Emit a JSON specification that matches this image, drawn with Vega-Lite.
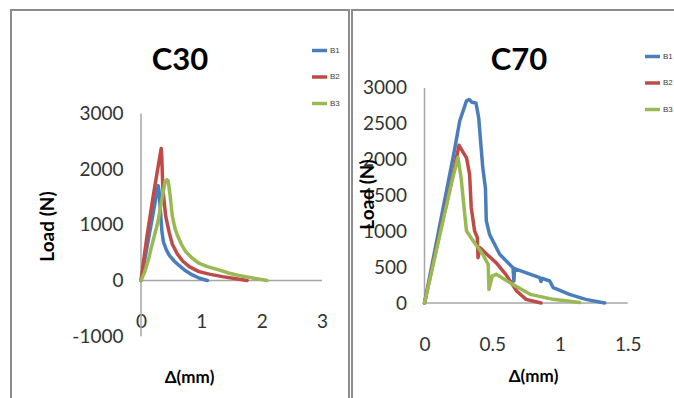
{
  "$schema": "https://vega.github.io/schema/vega-lite/v6.json",
  "padding": {"left": 10, "top": 9, "right": 0, "bottom": 0},
  "spacing": 1,
  "config": {
    "view": {"stroke": "#8c8c8c", "strokeWidth": 2},
    "font": "Lato",
    "axis": {"grid": false, "ticks": false, "domain": false, "labelFont": "Lato", "labelFontSize": 19, "labelColor": "#333333", "titleFont": "Lato", "titleFontWeight": "bold", "titleColor": "#000000"},
    "legend": {"labelFont": "Liberation Sans", "labelFontSize": 8, "labelColor": "#404040"}
  },
  "datasets": {
    "c30": [
      {"s": "B1", "i": 0, "x": 0, "y": 0}, {"s": "B1", "i": 1, "x": 0.05, "y": 300}, {"s": "B1", "i": 2, "x": 0.15, "y": 900}, {"s": "B1", "i": 3, "x": 0.25, "y": 1500}, {"s": "B1", "i": 4, "x": 0.285, "y": 1700}, {"s": "B1", "i": 5, "x": 0.30, "y": 1600}, {"s": "B1", "i": 6, "x": 0.325, "y": 1200}, {"s": "B1", "i": 7, "x": 0.345, "y": 900}, {"s": "B1", "i": 8, "x": 0.37, "y": 700}, {"s": "B1", "i": 9, "x": 0.42, "y": 550}, {"s": "B1", "i": 10, "x": 0.47, "y": 450}, {"s": "B1", "i": 11, "x": 0.55, "y": 350}, {"s": "B1", "i": 12, "x": 0.63, "y": 270}, {"s": "B1", "i": 13, "x": 0.72, "y": 190}, {"s": "B1", "i": 14, "x": 0.85, "y": 100}, {"s": "B1", "i": 15, "x": 0.97, "y": 40}, {"s": "B1", "i": 16, "x": 1.1, "y": 0},
      {"s": "B2", "i": 0, "x": 0, "y": 0}, {"s": "B2", "i": 1, "x": 0.04, "y": 330}, {"s": "B2", "i": 2, "x": 0.1, "y": 800}, {"s": "B2", "i": 3, "x": 0.2, "y": 1500}, {"s": "B2", "i": 4, "x": 0.3, "y": 2150}, {"s": "B2", "i": 5, "x": 0.335, "y": 2370}, {"s": "B2", "i": 6, "x": 0.345, "y": 2200}, {"s": "B2", "i": 7, "x": 0.36, "y": 1700}, {"s": "B2", "i": 8, "x": 0.38, "y": 1450}, {"s": "B2", "i": 9, "x": 0.41, "y": 1150}, {"s": "B2", "i": 10, "x": 0.44, "y": 1000}, {"s": "B2", "i": 11, "x": 0.47, "y": 850}, {"s": "B2", "i": 12, "x": 0.52, "y": 650}, {"s": "B2", "i": 13, "x": 0.6, "y": 480}, {"s": "B2", "i": 14, "x": 0.69, "y": 350}, {"s": "B2", "i": 15, "x": 0.8, "y": 250}, {"s": "B2", "i": 16, "x": 0.96, "y": 160}, {"s": "B2", "i": 17, "x": 1.15, "y": 110}, {"s": "B2", "i": 18, "x": 1.35, "y": 70}, {"s": "B2", "i": 19, "x": 1.55, "y": 35}, {"s": "B2", "i": 20, "x": 1.76, "y": 0},
      {"s": "B3", "i": 0, "x": 0, "y": 0}, {"s": "B3", "i": 1, "x": 0.06, "y": 150}, {"s": "B3", "i": 2, "x": 0.13, "y": 400}, {"s": "B3", "i": 3, "x": 0.17, "y": 590}, {"s": "B3", "i": 4, "x": 0.24, "y": 880}, {"s": "B3", "i": 5, "x": 0.28, "y": 1050}, {"s": "B3", "i": 6, "x": 0.35, "y": 1480}, {"s": "B3", "i": 7, "x": 0.4, "y": 1780}, {"s": "B3", "i": 8, "x": 0.43, "y": 1810}, {"s": "B3", "i": 9, "x": 0.45, "y": 1790}, {"s": "B3", "i": 10, "x": 0.48, "y": 1550}, {"s": "B3", "i": 11, "x": 0.52, "y": 1150}, {"s": "B3", "i": 12, "x": 0.56, "y": 950}, {"s": "B3", "i": 13, "x": 0.6, "y": 820}, {"s": "B3", "i": 14, "x": 0.67, "y": 650}, {"s": "B3", "i": 15, "x": 0.74, "y": 520}, {"s": "B3", "i": 16, "x": 0.85, "y": 400}, {"s": "B3", "i": 17, "x": 0.96, "y": 310}, {"s": "B3", "i": 18, "x": 1.1, "y": 250}, {"s": "B3", "i": 19, "x": 1.29, "y": 190}, {"s": "B3", "i": 20, "x": 1.45, "y": 135}, {"s": "B3", "i": 21, "x": 1.62, "y": 90}, {"s": "B3", "i": 22, "x": 1.85, "y": 45}, {"s": "B3", "i": 23, "x": 2.09, "y": 0}
    ],
    "c70": [
      {"s": "B1", "i": 0, "x": 0, "y": 0}, {"s": "B1", "i": 1, "x": 0.1, "y": 960}, {"s": "B1", "i": 2, "x": 0.22, "y": 2120}, {"s": "B1", "i": 3, "x": 0.26, "y": 2540}, {"s": "B1", "i": 4, "x": 0.31, "y": 2820}, {"s": "B1", "i": 5, "x": 0.33, "y": 2840}, {"s": "B1", "i": 6, "x": 0.35, "y": 2800}, {"s": "B1", "i": 7, "x": 0.38, "y": 2790}, {"s": "B1", "i": 8, "x": 0.40, "y": 2585}, {"s": "B1", "i": 9, "x": 0.43, "y": 1890}, {"s": "B1", "i": 10, "x": 0.45, "y": 1600}, {"s": "B1", "i": 11, "x": 0.456, "y": 1150}, {"s": "B1", "i": 12, "x": 0.48, "y": 958}, {"s": "B1", "i": 13, "x": 0.555, "y": 680}, {"s": "B1", "i": 14, "x": 0.653, "y": 493}, {"s": "B1", "i": 15, "x": 0.66, "y": 307}, {"s": "B1", "i": 16, "x": 0.665, "y": 480}, {"s": "B1", "i": 17, "x": 0.70, "y": 456}, {"s": "B1", "i": 18, "x": 0.85, "y": 353}, {"s": "B1", "i": 19, "x": 0.86, "y": 300}, {"s": "B1", "i": 20, "x": 0.87, "y": 345}, {"s": "B1", "i": 21, "x": 0.924, "y": 307}, {"s": "B1", "i": 22, "x": 0.95, "y": 214}, {"s": "B1", "i": 23, "x": 1.07, "y": 121}, {"s": "B1", "i": 24, "x": 1.19, "y": 51}, {"s": "B1", "i": 25, "x": 1.33, "y": 0},
      {"s": "B2", "i": 0, "x": 0, "y": 0}, {"s": "B2", "i": 1, "x": 0.1, "y": 870}, {"s": "B2", "i": 2, "x": 0.2, "y": 1700}, {"s": "B2", "i": 3, "x": 0.255, "y": 2200}, {"s": "B2", "i": 4, "x": 0.28, "y": 2120}, {"s": "B2", "i": 5, "x": 0.31, "y": 2027}, {"s": "B2", "i": 6, "x": 0.333, "y": 1795}, {"s": "B2", "i": 7, "x": 0.345, "y": 1330}, {"s": "B2", "i": 8, "x": 0.37, "y": 1005}, {"s": "B2", "i": 9, "x": 0.39, "y": 911}, {"s": "B2", "i": 10, "x": 0.395, "y": 632}, {"s": "B2", "i": 11, "x": 0.41, "y": 772}, {"s": "B2", "i": 12, "x": 0.46, "y": 680}, {"s": "B2", "i": 13, "x": 0.53, "y": 560}, {"s": "B2", "i": 14, "x": 0.60, "y": 400}, {"s": "B2", "i": 15, "x": 0.68, "y": 167}, {"s": "B2", "i": 16, "x": 0.75, "y": 51}, {"s": "B2", "i": 17, "x": 0.86, "y": 0},
      {"s": "B3", "i": 0, "x": 0, "y": 0}, {"s": "B3", "i": 1, "x": 0.1, "y": 840}, {"s": "B3", "i": 2, "x": 0.2, "y": 1680}, {"s": "B3", "i": 3, "x": 0.247, "y": 2030}, {"s": "B3", "i": 4, "x": 0.27, "y": 1748}, {"s": "B3", "i": 5, "x": 0.297, "y": 1238}, {"s": "B3", "i": 6, "x": 0.31, "y": 1005}, {"s": "B3", "i": 7, "x": 0.36, "y": 865}, {"s": "B3", "i": 8, "x": 0.43, "y": 680}, {"s": "B3", "i": 9, "x": 0.47, "y": 540}, {"s": "B3", "i": 10, "x": 0.476, "y": 191}, {"s": "B3", "i": 11, "x": 0.50, "y": 377}, {"s": "B3", "i": 12, "x": 0.53, "y": 400}, {"s": "B3", "i": 13, "x": 0.65, "y": 260}, {"s": "B3", "i": 14, "x": 0.78, "y": 121}, {"s": "B3", "i": 15, "x": 0.95, "y": 51}, {"s": "B3", "i": 16, "x": 1.145, "y": 8}
    ]
  },
  "hconcat": [
    {
      "width": 338,
      "height": 391,
      "title": {"text": "C30", "frame": "group", "anchor": "middle", "offset": -91, "baseline": "alphabetic", "fontSize": 31, "font": "Lato", "fontWeight": "bold", "color": "#000000"},
      "layer": [
        {
          "data": {"values": [{"x": 0, "y": -1000, "x2": 0, "y2": 3000}, {"x": 0, "y": 0, "x2": 3, "y2": 0}]},
          "mark": {"type": "rule", "color": "#a6a6a6", "strokeWidth": 1.5},
          "encoding": {
            "x": {"field": "x", "type": "quantitative"},
            "y": {"field": "y", "type": "quantitative"},
            "x2": {"field": "x2"},
            "y2": {"field": "y2"}
          }
        },
        {
          "data": {"name": "c30"},
          "mark": {"type": "line", "strokeWidth": 3.5, "strokeJoin": "round", "strokeCap": "round"},
          "encoding": {
            "x": {"field": "x", "type": "quantitative",
              "scale": {"domain": [-2.155, 3.448], "nice": false, "zero": false},
              "axis": {"values": [0, 1, 2, 3], "format": "d", "orient": "bottom", "offset": -89, "labelPadding": 0, "title": "Δ(mm)", "titleFontSize": 17, "titleBaseline": "alphabetic", "titleAlign": "center", "titleX": 178, "titleY": 70.5}},
            "y": {"field": "y", "type": "quantitative",
              "scale": {"domain": [-2163, 4856], "nice": false, "zero": false},
              "axis": {"values": [-1000, 0, 1000, 2000, 3000], "format": "d", "labelExpr": "replace(datum.label, '−', '-')", "offset": -130, "labelPadding": 18, "title": "Load (N)", "titleFontSize": 19, "titleAngle": -90, "titleBaseline": "alphabetic", "titleAlign": "center", "titleX": -87.5, "titleY": 216}},
            "color": {"field": "s", "type": "nominal",
              "scale": {"domain": ["B1", "B2", "B3"], "range": ["#4a7ebb", "#be4b48", "#98b954"]},
              "legend": {"title": null, "orient": "none", "legendX": 299, "legendY": 31, "symbolType": "stroke", "symbolSize": 225, "symbolStrokeWidth": 3.5, "labelOffset": 1, "rowPadding": 9.5, "padding": 0}},
            "order": {"field": "i", "type": "quantitative"}
          }
        }
      ]
    },
    {
      "width": 326,
      "height": 391,
      "title": {"text": "C70", "frame": "group", "anchor": "middle", "offset": -91, "dx": 4, "baseline": "alphabetic", "fontSize": 31, "font": "Lato", "fontWeight": "bold", "color": "#000000"},
      "layer": [
        {
          "data": {"values": [{"x": 0, "y": 0, "x2": 0, "y2": 3000}, {"x": 0, "y": 0, "x2": 1.5, "y2": 0}]},
          "mark": {"type": "rule", "color": "#a6a6a6", "strokeWidth": 1.5},
          "encoding": {
            "x": {"field": "x", "type": "quantitative"},
            "y": {"field": "y", "type": "quantitative"},
            "x2": {"field": "x2"},
            "y2": {"field": "y2"}
          }
        },
        {
          "data": {"name": "c70"},
          "mark": {"type": "line", "strokeWidth": 3.5, "strokeJoin": "round", "strokeCap": "round"},
          "encoding": {
            "x": {"field": "x", "type": "quantitative",
              "scale": {"domain": [-0.535, 1.871], "nice": false, "zero": false},
              "axis": {"values": [0, 0.5, 1, 1.5], "format": "~g", "orient": "bottom", "offset": -66, "labelPadding": 0, "title": "Δ(mm)", "titleFontSize": 17, "titleBaseline": "alphabetic", "titleAlign": "center", "titleX": 181, "titleY": 46}},
            "y": {"field": "y", "type": "quantitative",
              "scale": {"domain": [-1367, 4088], "nice": false, "zero": false},
              "axis": {"values": [0, 500, 1000, 1500, 2000, 2500, 3000], "format": "d", "offset": -72.5, "labelPadding": 18, "title": "Load (N)", "titleFontSize": 19, "titleAngle": -90, "titleBaseline": "alphabetic", "titleAlign": "center", "titleX": -51, "titleY": 184}},
            "color": {"field": "s", "type": "nominal",
              "scale": {"domain": ["B1", "B2", "B3"], "range": ["#4a7ebb", "#be4b48", "#98b954"]},
              "legend": {"title": null, "orient": "none", "legendX": 291, "legendY": 37, "symbolType": "stroke", "symbolSize": 225, "symbolStrokeWidth": 3.5, "labelOffset": 1, "rowPadding": 9.5, "padding": 0}},
            "order": {"field": "i", "type": "quantitative"}
          }
        }
      ]
    }
  ],
  "resolve": {"scale": {"x": "independent", "y": "independent", "color": "independent"}}
}
